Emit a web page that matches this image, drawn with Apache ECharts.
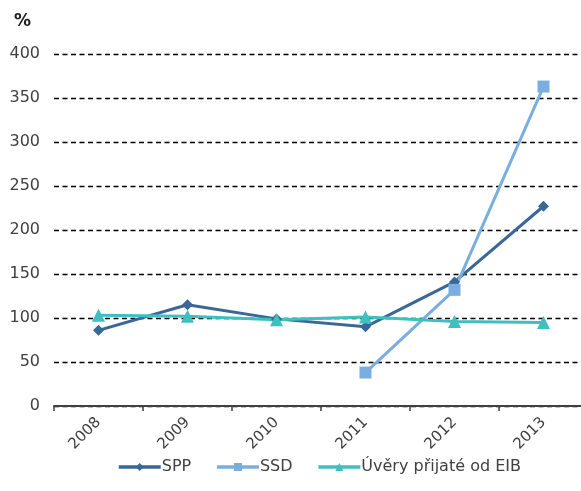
<!DOCTYPE html>
<html>
<head>
<meta charset="utf-8">
<script src="https://cdn.jsdelivr.net/npm/echarts@6/dist/echarts.min.js"></script>
<style>
  html, body { margin: 0; padding: 0; background: #ffffff; overflow: hidden; }
  /* canvas is wider than the window so the plot runs past the right edge */
  #chart { width: 600px; height: 491px; }
</style>
</head>
<body>
<div id="chart"></div>
<script>
// Years on the category axis
const years = ['2008', '2009', '2010', '2011', '2012', '2013'];

// Index values in %
const sppValues = [86, 115, 99, 90, 141, 227];
const ssdValues = [null, null, null, 38, 132, 363];
const eibValues = [103, 102, 98, 101, 96, 95];

// Value axis ticks
const yMin = 0;
const yMax = 400;
const yStep = 50;

const font = 'DejaVu Sans, Verdana, sans-serif';
const textColor = '#404040';

const chart = echarts.init(document.getElementById('chart'), null, { renderer: 'canvas' });

function lineSeries(name, data, color, symbol, symbolSize) {
  return {
    name: name,
    type: 'line',
    data: data,
    symbol: symbol,
    symbolSize: symbolSize,
    showAllSymbol: true,
    connectNulls: false,
    lineStyle: { color: color, width: 3 },
    itemStyle: { color: color },
    emphasis: { disabled: true },
    animation: false
  };
}

chart.setOption({
  backgroundColor: '#ffffff',
  animation: false,
  grid: { left: 54, width: 534, top: 54, bottom: 85 },
  graphic: [{
    type: 'text',
    left: 14,
    top: 13,
    style: { text: '%', font: 'bold 17px ' + font, fill: '#202020' }
  }],
  legend: {
    bottom: 11,
    left: 112,
    itemWidth: 42,
    itemHeight: 10,
    itemGap: 24,
    lineStyle: { width: 3.5 },
    textStyle: { fontFamily: font, fontSize: 16, color: textColor, padding: [0, 0, 0, -4] },
    data: ['SPP', 'SSD', 'Úvěry přijaté od EIB']
  },
  xAxis: {
    type: 'category',
    data: years,
    boundaryGap: true,
    axisLine: { show: true, lineStyle: { color: '#404040', width: 2 } },
    axisTick: { show: true, length: 5, lineStyle: { color: '#404040', width: 1.5 } },
    axisLabel: {
      rotate: 45,
      margin: 14,
      fontFamily: font,
      fontSize: 15,
      color: textColor
    },
    splitLine: { show: false }
  },
  yAxis: {
    type: 'value',
    min: yMin,
    max: yMax,
    interval: yStep,
    axisLine: { show: false },
    axisTick: { show: false },
    axisLabel: { margin: 14, fontFamily: font, fontSize: 16, color: textColor },
    splitLine: { lineStyle: { color: '#000000', width: 1.3, type: [5, 3.5] } }
  },
  series: [
    lineSeries('SPP', sppValues, '#3a679a', 'diamond', 11),
    lineSeries('SSD', ssdValues, '#7aaee0', 'rect', 12),
    lineSeries('Úvěry přijaté od EIB', eibValues, '#3fbfbf', 'triangle', 13)
  ]
});
</script>
</body>
</html>
